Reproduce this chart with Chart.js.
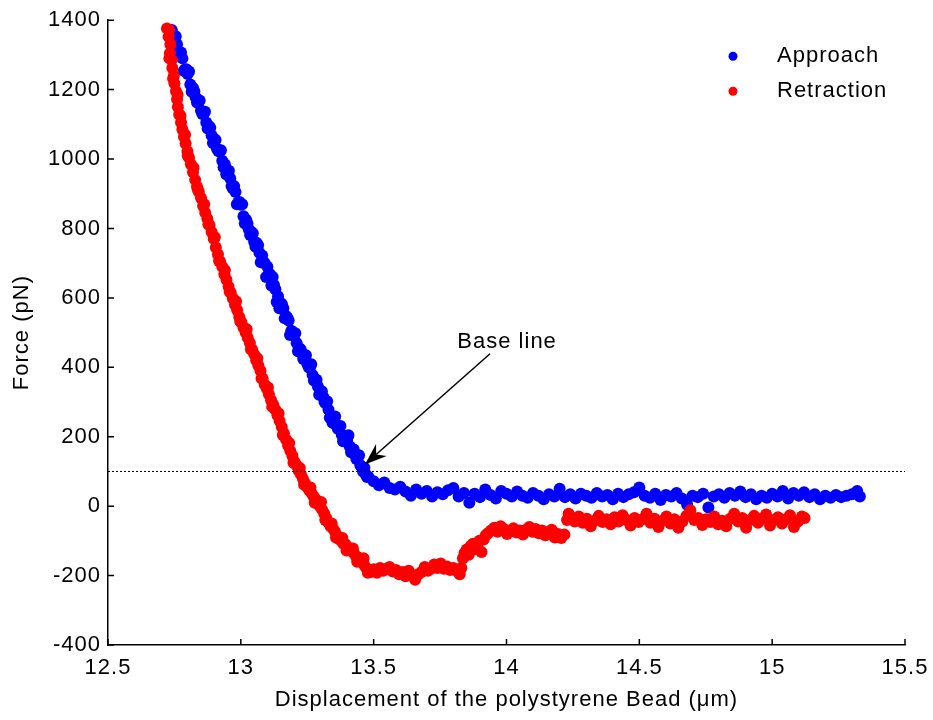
<!DOCTYPE html>
<html>
<head>
<meta charset="utf-8">
<script src="https://cdn.jsdelivr.net/npm/chart.js@4"></script>
<style>
  html, body { margin: 0; padding: 0; background: #fff; }
  #wrap { width: 933px; height: 720px; }
</style>
</head>
<body>
<div id="wrap"><canvas id="forceChart" width="933" height="720"></canvas></div>
<script>
/* force curve: approach / retraction of the bead */

const seriesNames = ['Approach', 'Retraction'];
const xTitle = 'Displacement of the polystyrene Bead (\u03bcm)';
const yTitle = 'Force (pN)';
const xTicks = [12.5, 13, 13.5, 14, 14.5, 15, 15.5];
const yTicks = [-400, -200, 0, 200, 400, 600, 800, 1000, 1200, 1400];
const baseLine = 100;
const noteText = 'Base line';
const noteAt = [13.815, 472];    // where the label sits
const arrowFrom = [13.938, 439]; // arrow tail
const arrowTo = [13.467, 120];   // arrow tip

// [displacement um, force pN]
const approachPoints = [
  [12.74,1372],[12.75,1345],[12.76,1330],[12.77,1300],[12.78,1290],[12.79,1258],[12.80,1245],[12.81,1215],[12.82,1205],[12.83,1178],
  [12.84,1168],[12.85,1140],[12.86,1130],[12.87,1105],[12.88,1095],[12.89,1068],[12.90,1058],[12.91,1030],[12.92,1022],[12.93,995],
  [12.94,985],[12.95,955],[12.96,945],[12.97,915],[12.98,905],[12.99,875],[13.00,868],[13.01,835],[13.02,825],[13.03,798],
  [13.04,790],[13.05,762],[13.06,758],[13.07,730],[13.08,722],[13.09,700],[13.10,690],[13.11,668],[13.12,660],[13.13,625],
  [13.14,605],[13.15,585],[13.16,570],[13.17,548],[13.18,535],[13.19,505],[13.20,492],[13.21,470],[13.22,455],[13.23,440],
  [13.24,425],[13.25,410],[13.26,398],[13.27,378],[13.28,365],[13.29,345],[13.30,330],[13.31,315],[13.32,296],[13.33,278],
  [13.34,258],[13.35,250],[13.36,232],[13.37,222],[13.38,205],[13.39,198],[13.40,188],[13.41,172],[13.42,165],[13.43,148],
  [13.44,138],[13.45,118],[13.46,100],[13.47,92],[13.48,85],
  [12.745,1345],[12.755,1354],[12.765,1309],[12.775,1307],[12.785,1254],[12.795,1259],[12.805,1252],[12.815,1194],[12.825,1195],[12.835,1163],
  [12.845,1169],[12.855,1130],[12.865,1136],[12.875,1088],[12.885,1090],[12.895,1046],[12.905,1055],[12.915,1023],[12.925,1025],[12.935,976],
  [12.945,956],[12.955,966],[12.965,922],[12.975,922],[12.985,870],[12.995,876],[13.005,870],[13.015,814],[13.025,814],[13.035,781],
  [13.045,786],[13.055,747],[13.065,752],[13.075,703],[13.085,704],[13.095,660],[13.105,669],[13.115,636],[13.125,637],[13.135,588],
  [13.145,570],[13.155,582],[13.165,541],[13.175,543],[13.185,493],[13.195,502],[13.205,498],[13.215,446],[13.225,452],[13.235,424],
  [13.245,435],[13.255,401],[13.265,409],[13.275,362],[13.285,364],[13.295,321],[13.305,331],[13.315,300],[13.325,302],[13.335,255],
  [13.345,240],[13.355,258],[13.365,223],[13.375,231],[13.385,187],[13.395,202],[13.405,204],[13.415,155],[13.425,163],[13.435,136],
  [13.445,147],[13.455,112],[13.465,111],[13.475,84],
  [13.50,72],[13.52,60],[13.54,68],[13.56,52],[13.58,48],[13.60,56],[13.62,42],[13.64,30],[13.66,48],[13.68,36],
  [13.70,44],[13.72,28],[13.74,40],[13.76,34],[13.78,46],[13.80,52],[13.82,28],[13.84,38],[13.86,10],[13.88,36],
  [13.90,26],[13.92,48],[13.94,32],[13.96,22],[13.98,44],[14.00,36],[14.02,28],[14.04,42],[14.06,30],[14.08,24],
  [14.10,38],[14.12,30],[14.14,20],[14.16,34],[14.18,28],[14.20,50],[14.22,26],[14.24,34],[14.26,22],[14.28,36],
  [14.30,30],[14.32,24],[14.34,38],[14.36,28],[14.38,32],[14.40,20],[14.42,36],[14.44,26],[14.46,34],[14.48,40],
  [14.50,54],[14.52,30],[14.54,24],[14.56,36],[14.58,18],[14.60,32],[14.62,28],[14.64,38],[14.66,22],[14.68,4],
  [14.70,30],[14.72,26],[14.74,36],[14.76,-4],[14.78,28],[14.80,34],[14.82,24],[14.84,38],[14.86,30],[14.88,42],
  [14.90,26],[14.92,34],[14.94,20],[14.96,30],[14.98,24],[15.00,36],[15.02,28],[15.04,44],[15.06,22],[15.08,38],
  [15.10,30],[15.12,40],[15.14,26],[15.16,34],[15.18,20],[15.20,30],[15.22,24],[15.24,32],[15.26,26],[15.28,30],
  [15.30,34],[15.32,44],[15.33,28]
];

const retractionPoints = [
  [12.722,1376],[12.730,1372],[12.728,1352],[12.735,1330],[12.733,1305],[12.740,1285],[12.742,1262],[12.748,1240],[12.750,1218],[12.756,1195],
  [12.760,1172],[12.763,1150],[12.768,1128],[12.775,1105],[12.780,1085],[12.786,1064],[12.792,1045],[12.799,1022],[12.805,1004],[12.812,985],
  [12.820,962],[12.828,940],[12.835,920],[12.842,905],[12.850,888],[12.858,865],[12.866,845],[12.874,828],[12.882,810],[12.890,790],
  [12.898,770],[12.906,745],[12.914,725],[12.922,705],[12.930,690],[12.938,668],[12.946,652],[12.954,632],[12.962,615],[12.970,598],
  [12.978,580],[12.986,565],[12.994,545],[13.002,530],[13.010,515],[13.018,500],[13.026,485],[13.034,470],[13.042,452],[13.050,438],
  [13.058,420],[13.066,405],[13.074,390],[13.082,368],[13.090,350],[13.098,338],[13.106,322],[13.114,305],[13.122,292],[13.130,278],
  [13.138,262],[13.146,245],[13.154,228],[13.162,210],[13.170,192],[13.178,175],[13.186,160],[13.194,145],[13.202,128],[13.210,118],
  [13.218,102],[13.226,92],[13.234,78],[13.242,65],[13.250,55],[13.258,45],[13.266,38],[13.274,28],[13.282,20],[13.290,12],
  [13.298,0],[13.306,-10],[13.314,-22],[13.322,-35],[13.330,-48],[13.338,-58],[13.346,-64],[13.354,-72],[13.362,-85],[13.370,-95],
  [13.378,-100],[13.386,-108],[13.394,-110],[13.402,-118],[13.410,-126],[13.418,-128],[13.426,-136],[13.434,-145],[13.442,-148],[13.450,-152],
  [13.458,-160],[13.466,-172],[13.474,-180],[13.482,-186],[13.490,-190],
  [12.731,1290],[12.745,1232],[12.762,1185],[12.773,1125],[12.790,1070],[12.800,1010],[12.822,975],[12.838,912],[12.862,870],[12.878,812],
  [12.902,775],[12.918,706],[12.940,680],[12.958,618],[12.982,590],[12.998,532],[13.022,510],[13.038,452],[13.062,426],[13.078,368],
  [13.102,342],[13.118,286],[13.142,268],[13.158,205],[13.182,182],[13.198,125],[13.222,110],[13.238,62],[13.262,54],[13.278,10],
  [13.302,12],[13.318,-40],[13.342,-50],[13.358,-90],[13.382,-92],[13.398,-128],[13.422,-122],[13.438,-160],[13.462,-150],[13.478,-192],
  [13.500,-182],[13.512,-192],[13.524,-178],[13.536,-186],[13.548,-180],[13.560,-175],[13.572,-188],[13.584,-184],[13.596,-196],[13.608,-190],
  [13.620,-202],[13.632,-186],[13.644,-198],[13.656,-212],[13.668,-196],[13.680,-190],[13.692,-175],[13.704,-186],[13.716,-180],[13.728,-168],
  [13.740,-178],[13.752,-165],[13.764,-180],[13.776,-174],[13.788,-184],[13.800,-178],[13.812,-186],[13.824,-196],[13.830,-178],
  [13.836,-150],[13.842,-135],[13.850,-125],[13.858,-140],[13.866,-114],[13.874,-108],[13.882,-124],[13.890,-118],[13.898,-100],[13.906,-132],
  [13.914,-96],[13.922,-84],[13.930,-78],[13.942,-70],[13.954,-62],[13.966,-74],[13.978,-58],[13.990,-66],[14.002,-80],[14.014,-72],
  [14.026,-64],[14.038,-76],[14.050,-70],[14.062,-82],[14.074,-68],[14.086,-60],[14.098,-74],[14.110,-66],[14.122,-78],[14.134,-70],
  [14.146,-84],[14.158,-76],[14.170,-68],[14.182,-90],[14.194,-80],[14.206,-92],[14.218,-82],[14.228,-40],[14.234,-22],[14.242,-34],
  [14.257,-44],[14.272,-30],[14.287,-48],[14.302,-36],[14.317,-58],[14.332,-42],[14.347,-28],[14.362,-46],[14.377,-38],[14.392,-52],
  [14.407,-32],[14.422,-44],[14.437,-26],[14.452,-40],[14.467,-56],[14.482,-34],[14.497,-46],[14.512,-38],[14.527,-22],[14.542,-48],
  [14.557,-36],[14.572,-60],[14.587,-42],[14.602,-30],[14.617,-50],[14.632,-38],[14.647,-62],[14.662,-44],[14.677,-28],[14.692,-12],
  [14.707,-40],[14.722,-34],[14.737,-54],[14.752,-38],[14.767,-46],[14.782,-30],[14.797,-52],[14.812,-42],[14.827,-58],[14.842,-36],
  [14.857,-22],[14.872,-44],[14.887,-34],[14.902,-62],[14.917,-40],[14.932,-28],[14.947,-48],[14.962,-36],[14.977,-24],[14.992,-56],
  [15.007,-40],[15.022,-32],[15.037,-50],[15.052,-38],[15.067,-26],[15.082,-60],[15.097,-44],[15.112,-30],[15.122,-34]
];

const FONT = '"Liberation Sans", Arial, sans-serif';
const FONT_SIZE = 22;
const toXY = pts => pts.map(p => ({ x: p[0], y: p[1] }));

// the original lettering runs a little wide
const wideText = {
  id: 'wideText',
  beforeUpdate(chart) { chart.ctx.letterSpacing = '1px'; },
  beforeDraw(chart) { chart.ctx.letterSpacing = '1px'; }
};

// ticks point into the plot, like the original figure
const inwardTicks = {
  id: 'inwardTicks',
  afterDatasetsDraw(chart) {
    const { ctx, chartArea: a, scales: { x, y } } = chart;
    ctx.save();
    ctx.strokeStyle = '#000';
    ctx.lineWidth = 1.5;
    ctx.beginPath();
    x.ticks.forEach(t => {
      const px = x.getPixelForValue(t.value);
      ctx.moveTo(px, a.bottom);
      ctx.lineTo(px, a.bottom - 6);
    });
    y.ticks.forEach(t => {
      const py = y.getPixelForValue(t.value);
      ctx.moveTo(a.left, py);
      ctx.lineTo(a.left + 6, py);
    });
    ctx.stroke();
    ctx.restore();
  }
};

// "Base line" label with arrow
const baseLineNote = {
  id: 'baseLineNote',
  afterDatasetsDraw(chart) {
    const { ctx, scales: { x, y } } = chart;
    const x0 = x.getPixelForValue(arrowFrom[0]), y0 = y.getPixelForValue(arrowFrom[1]);
    const x1 = x.getPixelForValue(arrowTo[0]),   y1 = y.getPixelForValue(arrowTo[1]);
    const len = Math.hypot(x1 - x0, y1 - y0);
    const ux = (x1 - x0) / len, uy = (y1 - y0) / len;
    const head = 22, wing = 8, notch = 15;
    ctx.save();
    ctx.strokeStyle = '#000';
    ctx.fillStyle = '#000';
    ctx.lineWidth = 1.5;
    ctx.beginPath();
    ctx.moveTo(x0, y0);
    ctx.lineTo(x1 - ux * notch, y1 - uy * notch);
    ctx.stroke();
    ctx.beginPath();
    ctx.moveTo(x1, y1);
    ctx.lineTo(x1 - ux * head - uy * wing, y1 - uy * head + ux * wing);
    ctx.lineTo(x1 - ux * notch, y1 - uy * notch);
    ctx.lineTo(x1 - ux * head + uy * wing, y1 - uy * head - ux * wing);
    ctx.closePath();
    ctx.fill();
    ctx.font = FONT_SIZE + 'px ' + FONT;
    ctx.textBaseline = 'middle';
    ctx.textAlign = 'left';
    ctx.fillText(noteText, x.getPixelForValue(noteAt[0]), y.getPixelForValue(noteAt[1]));
    ctx.restore();
  }
};

// legend inside the top-right corner of the plot
const insideLegend = {
  id: 'insideLegend',
  afterDraw(chart) {
    const { ctx, chartArea: a } = chart;
    ctx.save();
    ctx.font = FONT_SIZE + 'px ' + FONT;
    ctx.textBaseline = 'middle';
    ctx.textAlign = 'left';
    seriesNames.forEach((name, i) => {
      const ds = chart.data.datasets[i];
      const cy = a.top + 36 + i * 35;
      ctx.fillStyle = ds.backgroundColor;
      ctx.beginPath();
      ctx.arc(a.right - 172, cy, 4.5, 0, Math.PI * 2);
      ctx.fill();
      ctx.fillStyle = '#000';
      ctx.fillText(name, a.right - 128, cy);
    });
    ctx.restore();
  }
};

new Chart(document.getElementById('forceChart'), {
  type: 'scatter',
  data: {
    datasets: [
      { label: seriesNames[0], data: toXY(approachPoints), backgroundColor: '#0000ff',
        borderWidth: 0, pointRadius: 6, pointHoverRadius: 6, order: 2 },
      { label: seriesNames[1], data: toXY(retractionPoints), backgroundColor: '#ff0000',
        borderWidth: 0, pointRadius: 6, pointHoverRadius: 6, order: 1 },
      { label: noteText, type: 'line',
        data: [{ x: xTicks[0], y: baseLine }, { x: xTicks[xTicks.length - 1], y: baseLine }],
        borderColor: '#000', borderWidth: 1, borderDash: [2, 2], pointRadius: 0, fill: false, order: 0 }
    ]
  },
  options: {
    responsive: false,
    animation: false,
    devicePixelRatio: 1,
    layout: { padding: { left: 0, top: 19, right: 28, bottom: 0 } },
    plugins: { legend: { display: false }, tooltip: { enabled: false } },
    scales: {
      x: {
        type: 'linear',
        min: xTicks[0], max: xTicks[xTicks.length - 1],
        grid: { display: false, drawTicks: false },
        border: { display: true, color: '#000', width: 1.5 },
        afterBuildTicks: s => { s.ticks = xTicks.map(v => ({ value: v })); },
        ticks: { color: '#000', font: { family: FONT, size: FONT_SIZE }, padding: 10, maxRotation: 0,
                 callback: v => String(v) },
        title: { display: true, text: xTitle, color: '#000', font: { family: FONT, size: FONT_SIZE },
                 padding: { top: 0, bottom: 7 } },
        afterFit: s => { s.height = 75; s.paddingLeft = 0; s.paddingRight = 0; }
      },
      y: {
        type: 'linear',
        min: yTicks[0], max: yTicks[yTicks.length - 1],
        grid: { display: false, drawTicks: false },
        border: { display: true, color: '#000', width: 1.5 },
        afterBuildTicks: s => { s.ticks = yTicks.map(v => ({ value: v })); },
        ticks: { color: '#000', font: { family: FONT, size: FONT_SIZE }, padding: 7,
                 callback: v => String(v) },
        title: { display: true, text: yTitle, color: '#000', font: { family: FONT, size: FONT_SIZE },
                 padding: { top: 9, bottom: 0 } },
        afterFit: s => { s.width = 108; }
      }
    }
  },
  plugins: [wideText, inwardTicks, baseLineNote, insideLegend]
});
</script>
</body>
</html>
